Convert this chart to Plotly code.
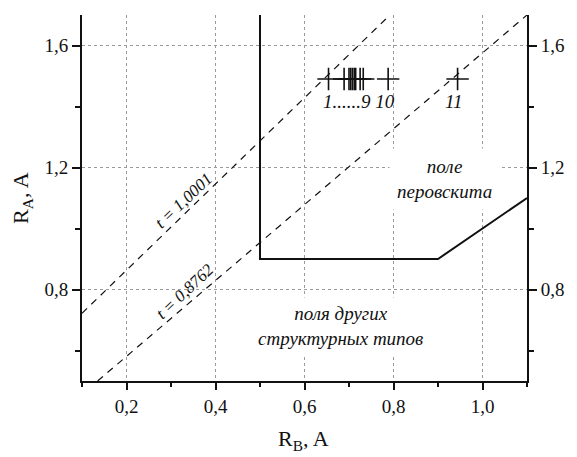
import plotly.graph_objects as go

# ---- data ----
rb_samples = [0.654, 0.689, 0.700, 0.704, 0.708, 0.712, 0.715, 0.725, 0.732, 0.788, 0.944]
ra_samples = [1.49, 1.49, 1.49, 1.49, 1.49, 1.49, 1.49, 1.49, 1.49, 1.49, 1.49]

t_upper_x = [0.1, 0.792]
t_upper_y = [0.722, 1.7]
t_lower_x = [0.135, 1.1]
t_lower_y = [0.5, 1.7]

boundary_x = [0.5, 0.5, 0.9, 1.1]
boundary_y = [1.7, 0.9, 0.9, 1.1]

x_range = [0.1, 1.1]
y_range = [0.5, 1.7]

FONT = "Liberation Serif"
BLACK = "#111111"

fig = go.Figure()

for xs, ys in [(t_upper_x, t_upper_y), (t_lower_x, t_lower_y)]:
    fig.add_trace(go.Scatter(x=xs, y=ys, mode="lines",
                             line=dict(color=BLACK, width=1.2, dash="7px,6px"),
                             hoverinfo="skip"))

fig.add_trace(go.Scatter(x=boundary_x, y=boundary_y, mode="lines",
                         line=dict(color=BLACK, width=2), hoverinfo="skip"))

fig.add_trace(go.Scatter(x=rb_samples, y=ra_samples, mode="markers",
                         marker=dict(symbol="cross-thin", size=16,
                                     line=dict(color=BLACK, width=1.6))))

# invisible trace for right axis
fig.add_trace(go.Scatter(x=[None], y=[None], yaxis="y2", mode="lines"))

def A(x, y, text, size=19, angle=0, xref="x", yref="y", **kw):
    return dict(x=x, y=y, text=text, showarrow=False, textangle=angle,
                xanchor="center", yanchor="middle", xref=xref, yref=yref,
                font=dict(family=FONT, size=size, color=BLACK), **kw)

annotations = [
    A(0.9135, 1.163, "<i>поле<br>перовскита</i>", bgcolor="white", borderpad=7),
    A(0.682, 0.679, "<i>поля других<br>структурных типов</i>", bgcolor="white", borderpad=5),
    A(0.329, 1.091, "<i>t = 1,0001</i>", size=17, angle=-43.3),
    A(0.331, 0.7935, "<i>t = 0,8762</i>", size=17, angle=-43.3),
    A(0.7226, 1.418, "<i>1......9 10</i>"),
    A(0.935, 1.418, "<i>11</i>"),
    A(0.497, -0.161, "R<sub>B</sub>, A", size=22, xref="paper", yref="paper"),
    A(-0.135, 0.5, "R<sub>A</sub>, A", size=22, angle=-90, xref="paper", yref="paper"),
]

axis_common = dict(showline=True, linecolor=BLACK, linewidth=2, ticks="outside",
                   tickcolor=BLACK, tickwidth=1.5, zeroline=False,
                   tickfont=dict(family=FONT, size=19, color=BLACK),
                   tickformat=".1f")

fig.update_layout(
    width=577, height=457,
    margin=dict(l=82, r=36, t=15, b=76),
    plot_bgcolor="white", paper_bgcolor="white",
    showlegend=False,
    font=dict(family=FONT, color=BLACK),
    separators=", ",
    annotations=annotations,
    xaxis=dict(range=x_range, dtick=0.2, tick0=0, ticklen=7,
               showgrid=True, gridcolor="#9a9a9a", gridwidth=1, griddash="dot",
               minor=dict(ticks="outside", ticklen=4, dtick=0.1, tick0=0,
                          tickcolor=BLACK, tickwidth=1.5, showgrid=False),
               **axis_common),
    yaxis=dict(range=y_range, dtick=0.4, tick0=0.4, ticklen=8,
               showgrid=True, gridcolor="#9a9a9a", gridwidth=1, griddash="dot",
               minor=dict(ticks="outside", ticklen=5, dtick=0.2, tick0=0.4,
                          tickcolor=BLACK, tickwidth=1.5, showgrid=False),
               **axis_common),
    yaxis2=dict(range=y_range, dtick=0.4, tick0=0.4, ticklen=8, overlaying="y",
                side="right", anchor="x", showgrid=False,
                minor=dict(ticks="outside", ticklen=5, dtick=0.2, tick0=0.4,
                           tickcolor=BLACK, tickwidth=1.5, showgrid=False),
                **axis_common),
)

fig.write_html("out.html")
